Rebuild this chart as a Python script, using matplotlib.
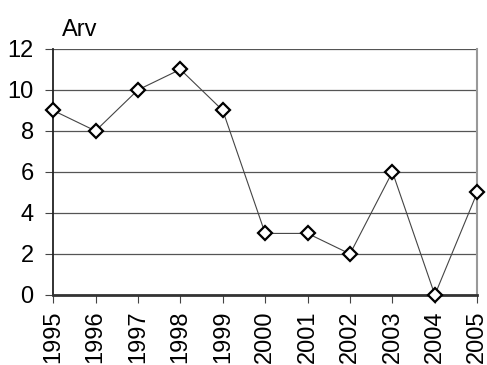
import matplotlib
matplotlib.use("Agg")
import matplotlib.pyplot as plt

# data
years = [1995, 1996, 1997, 1998, 1999, 2000, 2001, 2002, 2003, 2004, 2005]
arv = [9, 8, 10, 11, 9, 3, 3, 2, 6, 0, 5]
yticks = [0, 2, 4, 6, 8, 10, 12]

plt.rcParams['font.family'] = ['Liberation Sans', 'DejaVu Sans']

fig = plt.figure(figsize=(4.87, 3.65), dpi=100)
ax = fig.add_axes([0.109, 0.192, 0.871, 0.674])

ax.plot(years, arv, color='#444444', lw=0.8, marker='D', markersize=7,
        markerfacecolor='white', markeredgecolor='black', markeredgewidth=1.6,
        clip_on=False, zorder=3)

ax.set_xlim(years[0], years[-1])
ax.set_ylim(0, 12)
ax.set_yticks(yticks)
ax.set_xticks(years)
ax.set_xticklabels([str(y) for y in years], rotation=90)
ax.tick_params(axis='both', labelsize=17, direction='out', length=6, color='#444444')
ax.tick_params(axis='x', pad=5)
ax.tick_params(axis='y', pad=8)
ax.yaxis.grid(True, color='#555555', lw=0.9)
ax.set_axisbelow(True)

ax.spines['top'].set_visible(False)
ax.spines['left'].set_color('#222222')
ax.spines['left'].set_linewidth(1.3)
ax.spines['bottom'].set_color('#333333')
ax.spines['bottom'].set_linewidth(2)
ax.spines['right'].set_color('#999999')
ax.spines['right'].set_linewidth(1.5)

fig.text(0.127, 0.9, 'Arv', fontsize=17)

fig.savefig('out.png', dpi=100)
